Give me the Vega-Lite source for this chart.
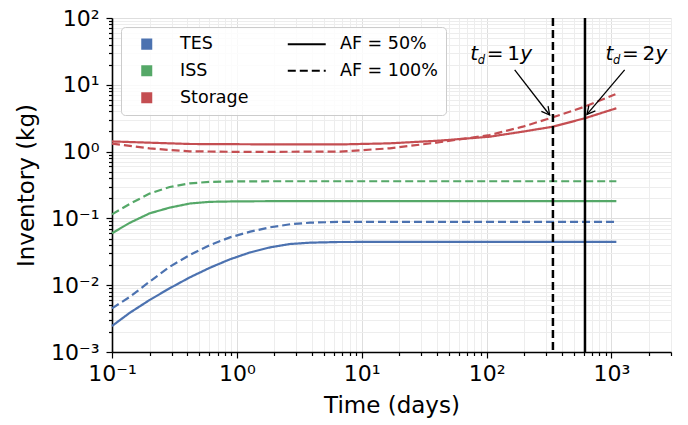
{
  "$schema": "https://vega.github.io/schema/vega-lite/v6.json",
  "width": 559,
  "height": 334,
  "autosize": {"type": "none"},
  "padding": {"left": 112, "top": 18, "right": 17, "bottom": 73},
  "config": {
    "font": "DejaVu Sans",
    "view": {"stroke": null},
    "axis": {
      "labelFont": "DejaVu Sans",
      "titleFont": "DejaVu Sans",
      "labelColor": "black",
      "titleColor": "black",
      "titleFontWeight": "normal",
      "labelFontSize": 22,
      "titleFontSize": 23,
      "domainColor": "black",
      "domainWidth": 1.6,
      "tickColor": "black",
      "tickWidth": 1.2,
      "labelOverlap": false,
      "labelFlush": false,
      "labelBound": false,
      "grid": true,
      "gridWidth": 1
    }
  },
  "resolve": {"legend": {"color": "independent", "strokeDash": "independent", "shape": "independent"}},
  "datasets": {
    "curves": [
      {"t": 0.1, "v": 0.00245, "series": "TES", "af": "AF = 50%"},
      {"t": 0.139, "v": 0.00387, "series": "TES", "af": "AF = 50%"},
      {"t": 0.2, "v": 0.006, "series": "TES", "af": "AF = 50%"},
      {"t": 0.29, "v": 0.009, "series": "TES", "af": "AF = 50%"},
      {"t": 0.42, "v": 0.0131, "series": "TES", "af": "AF = 50%"},
      {"t": 0.61, "v": 0.0183, "series": "TES", "af": "AF = 50%"},
      {"t": 0.88, "v": 0.0244, "series": "TES", "af": "AF = 50%"},
      {"t": 1.28, "v": 0.031, "series": "TES", "af": "AF = 50%"},
      {"t": 1.85, "v": 0.0369, "series": "TES", "af": "AF = 50%"},
      {"t": 2.67, "v": 0.0414, "series": "TES", "af": "AF = 50%"},
      {"t": 3.86, "v": 0.0433, "series": "TES", "af": "AF = 50%"},
      {"t": 6.4, "v": 0.0443, "series": "TES", "af": "AF = 50%"},
      {"t": 10, "v": 0.0444, "series": "TES", "af": "AF = 50%"},
      {"t": 100, "v": 0.0444, "series": "TES", "af": "AF = 50%"},
      {"t": 1095, "v": 0.0444, "series": "TES", "af": "AF = 50%"},
      {"t": 0.1, "v": 0.0045, "series": "TES", "af": "AF = 100%"},
      {"t": 0.139, "v": 0.0067, "series": "TES", "af": "AF = 100%"},
      {"t": 0.2, "v": 0.0113, "series": "TES", "af": "AF = 100%"},
      {"t": 0.29, "v": 0.0189, "series": "TES", "af": "AF = 100%"},
      {"t": 0.42, "v": 0.0283, "series": "TES", "af": "AF = 100%"},
      {"t": 0.61, "v": 0.04, "series": "TES", "af": "AF = 100%"},
      {"t": 0.88, "v": 0.052, "series": "TES", "af": "AF = 100%"},
      {"t": 1.28, "v": 0.0633, "series": "TES", "af": "AF = 100%"},
      {"t": 1.85, "v": 0.0736, "series": "TES", "af": "AF = 100%"},
      {"t": 2.67, "v": 0.0817, "series": "TES", "af": "AF = 100%"},
      {"t": 3.86, "v": 0.0863, "series": "TES", "af": "AF = 100%"},
      {"t": 6.4, "v": 0.0885, "series": "TES", "af": "AF = 100%"},
      {"t": 10, "v": 0.0888, "series": "TES", "af": "AF = 100%"},
      {"t": 100, "v": 0.0888, "series": "TES", "af": "AF = 100%"},
      {"t": 1095, "v": 0.0888, "series": "TES", "af": "AF = 100%"},
      {"t": 0.1, "v": 0.06, "series": "ISS", "af": "AF = 50%"},
      {"t": 0.139, "v": 0.086, "series": "ISS", "af": "AF = 50%"},
      {"t": 0.2, "v": 0.119, "series": "ISS", "af": "AF = 50%"},
      {"t": 0.29, "v": 0.145, "series": "ISS", "af": "AF = 50%"},
      {"t": 0.42, "v": 0.167, "series": "ISS", "af": "AF = 50%"},
      {"t": 0.61, "v": 0.177, "series": "ISS", "af": "AF = 50%"},
      {"t": 1, "v": 0.18, "series": "ISS", "af": "AF = 50%"},
      {"t": 2, "v": 0.181, "series": "ISS", "af": "AF = 50%"},
      {"t": 100, "v": 0.181, "series": "ISS", "af": "AF = 50%"},
      {"t": 1095, "v": 0.181, "series": "ISS", "af": "AF = 50%"},
      {"t": 0.1, "v": 0.115, "series": "ISS", "af": "AF = 100%"},
      {"t": 0.139, "v": 0.165, "series": "ISS", "af": "AF = 100%"},
      {"t": 0.2, "v": 0.235, "series": "ISS", "af": "AF = 100%"},
      {"t": 0.29, "v": 0.295, "series": "ISS", "af": "AF = 100%"},
      {"t": 0.42, "v": 0.335, "series": "ISS", "af": "AF = 100%"},
      {"t": 0.61, "v": 0.352, "series": "ISS", "af": "AF = 100%"},
      {"t": 1, "v": 0.358, "series": "ISS", "af": "AF = 100%"},
      {"t": 2, "v": 0.36, "series": "ISS", "af": "AF = 100%"},
      {"t": 100, "v": 0.36, "series": "ISS", "af": "AF = 100%"},
      {"t": 1095, "v": 0.36, "series": "ISS", "af": "AF = 100%"},
      {"t": 0.1, "v": 1.42, "series": "Storage", "af": "AF = 50%"},
      {"t": 0.2, "v": 1.36, "series": "Storage", "af": "AF = 50%"},
      {"t": 0.42, "v": 1.3, "series": "Storage", "af": "AF = 50%"},
      {"t": 1, "v": 1.29, "series": "Storage", "af": "AF = 50%"},
      {"t": 2.5, "v": 1.28, "series": "Storage", "af": "AF = 50%"},
      {"t": 6.7, "v": 1.28, "series": "Storage", "af": "AF = 50%"},
      {"t": 16.8, "v": 1.33, "series": "Storage", "af": "AF = 50%"},
      {"t": 42, "v": 1.46, "series": "Storage", "af": "AF = 50%"},
      {"t": 105.7, "v": 1.67, "series": "Storage", "af": "AF = 50%"},
      {"t": 195, "v": 1.99, "series": "Storage", "af": "AF = 50%"},
      {"t": 340, "v": 2.36, "series": "Storage", "af": "AF = 50%"},
      {"t": 610, "v": 3.15, "series": "Storage", "af": "AF = 50%"},
      {"t": 1095, "v": 4.45, "series": "Storage", "af": "AF = 50%"},
      {"t": 0.1, "v": 1.32, "series": "Storage", "af": "AF = 100%"},
      {"t": 0.2, "v": 1.12, "series": "Storage", "af": "AF = 100%"},
      {"t": 0.3, "v": 1.05, "series": "Storage", "af": "AF = 100%"},
      {"t": 0.42, "v": 1.01, "series": "Storage", "af": "AF = 100%"},
      {"t": 1.1, "v": 0.99, "series": "Storage", "af": "AF = 100%"},
      {"t": 6.7, "v": 1.0, "series": "Storage", "af": "AF = 100%"},
      {"t": 16.8, "v": 1.12, "series": "Storage", "af": "AF = 100%"},
      {"t": 42, "v": 1.38, "series": "Storage", "af": "AF = 100%"},
      {"t": 105.7, "v": 1.77, "series": "Storage", "af": "AF = 100%"},
      {"t": 195, "v": 2.36, "series": "Storage", "af": "AF = 100%"},
      {"t": 340, "v": 3.26, "series": "Storage", "af": "AF = 100%"},
      {"t": 610, "v": 4.7, "series": "Storage", "af": "AF = 100%"},
      {"t": 1076, "v": 7.2, "series": "Storage", "af": "AF = 100%"}
    ],
    "vlines": [
      {"t": 340, "af": "AF = 100%"},
      {"t": 614, "af": "AF = 50%"}
    ],
    "arrows": [
      {"ann": "1y", "x1": 168, "y1": 16.7, "x2": 320, "y2": 3.53},
      {"ann": "2y", "x1": 1276, "y1": 16.7, "x2": 637, "y2": 3.61}
    ],
    "notes": [
      {"ann": "1y", "x": 74, "y": 23.5, "num": "1"},
      {"ann": "2y", "x": 898, "y": 23.5, "num": "2"}
    ],
    "legend": [
      {"key": "TES"},
      {"key": "ISS"},
      {"key": "Storage"},
      {"key": "AF = 50%"},
      {"key": "AF = 100%"}
    ]
  },
  "layer": [
    {
      "data": {"name": "curves"},
      "mark": {"type": "line", "strokeWidth": 2.2},
      "encoding": {
        "x": {
          "field": "t", "type": "quantitative",
          "scale": {"type": "log", "domain": [0.1, 3000], "nice": false},
          "axis": {
            "title": "Time (days)",
            "titlePadding": 10,
            "labelPadding": 5,
            "values": [0.1,0.2,0.3,0.4,0.5,0.6,0.7,0.8,0.9,1,2,3,4,5,6,7,8,9,10,20,30,40,50,60,70,80,90,100,200,300,400,500,600,700,800,900,1000,2000,3000],
            "labelExpr": "abs(log(datum.value)/LN10 - round(log(datum.value)/LN10)) < 0.001 ? ['10⁻³','10⁻²','10⁻¹','10⁰','10¹','10²','10³'][round(log(datum.value)/LN10)+3] : ''",
            "tickSize": {"condition": {"test": "abs(log(datum.value)/LN10 - round(log(datum.value)/LN10)) < 0.001", "value": 6}, "value": 3.5},
            "gridColor": {"condition": {"test": "abs(log(datum.value)/LN10 - round(log(datum.value)/LN10)) < 0.001", "value": "#dedede"}, "value": "#ededed"}
          }
        },
        "y": {
          "field": "v", "type": "quantitative",
          "scale": {"type": "log", "domain": [0.001, 100], "nice": false},
          "axis": {
            "title": "Inventory (kg)",
            "titlePadding": 12,
            "labelPadding": 7,
            "values": [0.001,0.002,0.003,0.004,0.005,0.006,0.007,0.008,0.009,0.01,0.02,0.03,0.04,0.05,0.06,0.07,0.08,0.09,0.1,0.2,0.3,0.4,0.5,0.6,0.7,0.8,0.9,1,2,3,4,5,6,7,8,9,10,20,30,40,50,60,70,80,90,100],
            "labelExpr": "abs(log(datum.value)/LN10 - round(log(datum.value)/LN10)) < 0.001 ? ['10⁻³','10⁻²','10⁻¹','10⁰','10¹','10²','10³'][round(log(datum.value)/LN10)+3] : ''",
            "tickSize": {"condition": {"test": "abs(log(datum.value)/LN10 - round(log(datum.value)/LN10)) < 0.001", "value": 6}, "value": 3.5},
            "gridColor": {"condition": {"test": "abs(log(datum.value)/LN10 - round(log(datum.value)/LN10)) < 0.001", "value": "#dedede"}, "value": "#ededed"}
          }
        },
        "color": {
          "field": "series", "type": "nominal",
          "scale": {"domain": ["TES", "ISS", "Storage", "AF = 50%", "AF = 100%"], "range": ["#4c72b0", "#55a868", "#c44e52", "#000000", "#000000"]},
          "legend": null
        },
        "strokeDash": {
          "field": "af", "type": "nominal",
          "scale": {"domain": ["TES", "ISS", "Storage", "AF = 50%", "AF = 100%"], "range": [[1, 0], [1, 0], [1, 0], [1, 0], [8, 4]]},
          "legend": null
        }
      }
    },
    {
      "data": {"name": "vlines"},
      "mark": {"type": "rule", "color": "black", "strokeWidth": 2.5},
      "encoding": {
        "x": {"field": "t", "type": "quantitative", "scale": {"type": "log", "domain": [0.1, 3000], "nice": false}},
        "strokeDash": {
          "field": "af", "type": "nominal",
          "scale": {"domain": ["TES", "ISS", "Storage", "AF = 50%", "AF = 100%"], "range": [[1, 0], [1, 0], [1, 0], [1, 0], [8, 4]]},
          "legend": null
        }
      }
    },
    {
      "data": {"name": "arrows"},
      "mark": {"type": "rule", "color": "black", "strokeWidth": 1.3},
      "encoding": {
        "x": {"field": "x1", "type": "quantitative", "scale": {"type": "log", "domain": [0.1, 3000], "nice": false}},
        "y": {"field": "y1", "type": "quantitative", "scale": {"type": "log", "domain": [0.001, 100], "nice": false}},
        "x2": {"field": "x2"},
        "y2": {"field": "y2"}
      }
    },
    {
      "data": {"name": "arrows"},
      "transform": [{"filter": "datum.ann === '1y'"}],
      "mark": {"type": "point", "shape": "M-1.6,-0.85L0,0L-1.6,0.85", "filled": false, "stroke": "black", "strokeWidth": 1.3, "size": 100, "angle": 52, "opacity": 1},
      "encoding": {
        "x": {"field": "x2", "type": "quantitative", "scale": {"type": "log", "domain": [0.1, 3000], "nice": false}},
        "y": {"field": "y2", "type": "quantitative", "scale": {"type": "log", "domain": [0.001, 100], "nice": false}}
      }
    },
    {
      "data": {"name": "arrows"},
      "transform": [{"filter": "datum.ann === '2y'"}],
      "mark": {"type": "point", "shape": "M-1.6,-0.85L0,0L-1.6,0.85", "filled": false, "stroke": "black", "strokeWidth": 1.3, "size": 100, "angle": 130, "opacity": 1},
      "encoding": {
        "x": {"field": "x2", "type": "quantitative", "scale": {"type": "log", "domain": [0.1, 3000], "nice": false}},
        "y": {"field": "y2", "type": "quantitative", "scale": {"type": "log", "domain": [0.001, 100], "nice": false}}
      }
    },
    {
      "data": {"name": "notes"},
      "mark": {"type": "text", "text": "t", "font": "DejaVu Sans", "fontStyle": "italic", "fontSize": 20, "align": "left", "baseline": "alphabetic", "color": "black", "dx": 0},
      "encoding": {
        "x": {"field": "x", "type": "quantitative", "scale": {"type": "log", "domain": [0.1, 3000], "nice": false}},
        "y": {"field": "y", "type": "quantitative", "scale": {"type": "log", "domain": [0.001, 100], "nice": false}}
      }
    },
    {
      "data": {"name": "notes"},
      "mark": {"type": "text", "text": "d", "font": "DejaVu Sans", "fontStyle": "italic", "fontSize": 11.5, "align": "left", "baseline": "alphabetic", "color": "black", "dx": 7.5, "dy": 3.5},
      "encoding": {
        "x": {"field": "x", "type": "quantitative", "scale": {"type": "log", "domain": [0.1, 3000], "nice": false}},
        "y": {"field": "y", "type": "quantitative", "scale": {"type": "log", "domain": [0.001, 100], "nice": false}}
      }
    },
    {
      "data": {"name": "notes"},
      "mark": {"type": "text", "text": "=", "font": "DejaVu Sans", "fontSize": 20, "align": "left", "baseline": "alphabetic", "color": "black", "dx": 16.5},
      "encoding": {
        "x": {"field": "x", "type": "quantitative", "scale": {"type": "log", "domain": [0.1, 3000], "nice": false}},
        "y": {"field": "y", "type": "quantitative", "scale": {"type": "log", "domain": [0.001, 100], "nice": false}}
      }
    },
    {
      "data": {"name": "notes"},
      "mark": {"type": "text", "font": "DejaVu Sans", "fontSize": 20, "align": "left", "baseline": "alphabetic", "color": "black", "dx": 37},
      "encoding": {
        "x": {"field": "x", "type": "quantitative", "scale": {"type": "log", "domain": [0.1, 3000], "nice": false}},
        "y": {"field": "y", "type": "quantitative", "scale": {"type": "log", "domain": [0.001, 100], "nice": false}},
        "text": {"field": "num", "type": "nominal"}
      }
    },
    {
      "data": {"name": "notes"},
      "mark": {"type": "text", "text": "y", "font": "DejaVu Sans", "fontStyle": "italic", "fontSize": 20, "align": "left", "baseline": "alphabetic", "color": "black", "dx": 50},
      "encoding": {
        "x": {"field": "x", "type": "quantitative", "scale": {"type": "log", "domain": [0.1, 3000], "nice": false}},
        "y": {"field": "y", "type": "quantitative", "scale": {"type": "log", "domain": [0.001, 100], "nice": false}}
      }
    },
    {
      "data": {"name": "legend"},
      "transform": [{"filter": "false"}],
      "mark": {"type": "point", "filled": true, "opacity": 1},
      "encoding": {
        "color": {
          "field": "key", "type": "nominal", "title": null,
          "scale": {"domain": ["TES", "ISS", "Storage", "AF = 50%", "AF = 100%"], "range": ["#4c72b0", "#55a868", "#c44e52", "#000000", "#000000"]},
          "legend": {
            "orient": "none", "legendX": 9, "legendY": 9,
            "columns": 2, "columnPadding": 34, "rowPadding": 8,
            "padding": 8, "strokeColor": "#cccccc", "fillColor": "rgba(255,255,255,0.8)", "cornerRadius": 4,
            "labelFont": "DejaVu Sans", "labelFontSize": 17.5, "labelColor": "black",
            "labelOffset": 24.5, "symbolOffset": 9,
            "symbolSize": 121, "symbolStrokeWidth": 2, "symbolOpacity": 1,
            "encode": {"symbols": {"update": {"stroke": {"scale": "color", "field": "value"}}}}
          }
        },
        "shape": {
          "field": "key", "type": "nominal", "title": null,
          "scale": {"domain": ["TES", "ISS", "Storage", "AF = 50%", "AF = 100%"], "range": ["M-0.82,-0.82L0.82,-0.82L0.82,0.82L-0.82,0.82Z", "M-0.82,-0.82L0.82,-0.82L0.82,0.82L-0.82,0.82Z", "M-0.82,-0.82L0.82,-0.82L0.82,0.82L-0.82,0.82Z", "M-3.45,0L3.45,0", "M-3.45,0L3.45,0"]}
        },
        "strokeDash": {
          "field": "key", "type": "nominal", "title": null,
          "scale": {"domain": ["TES", "ISS", "Storage", "AF = 50%", "AF = 100%"], "range": [[1, 0], [1, 0], [1, 0], [1, 0], [8, 4]]}
        }
      }
    }
  ]
}
